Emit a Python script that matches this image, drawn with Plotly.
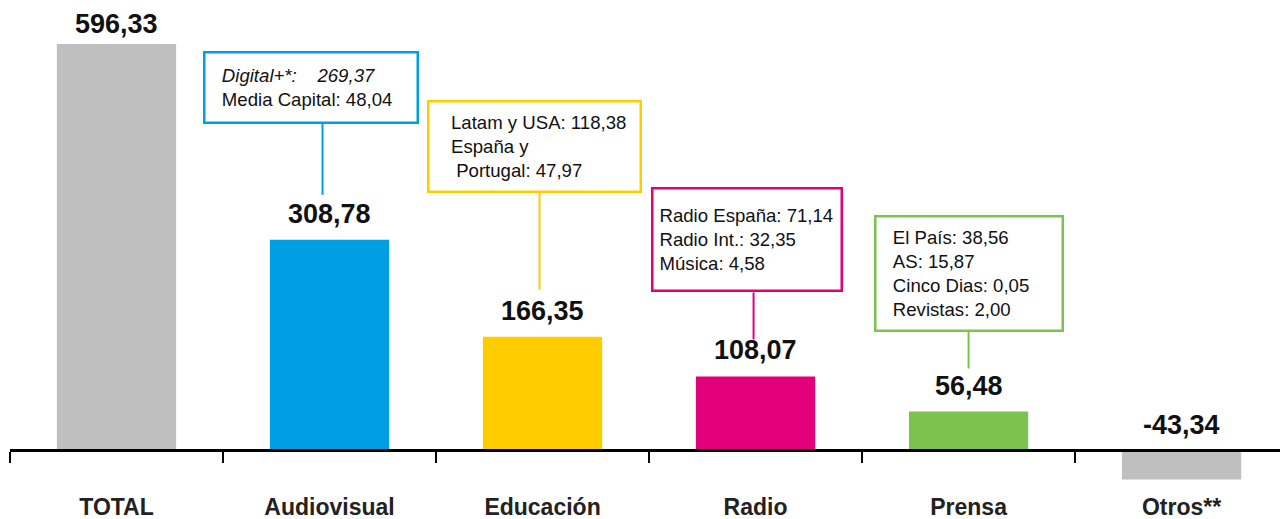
import plotly.graph_objects as go

categories = ["TOTAL", "Audiovisual", "Educación", "Radio", "Prensa", "Otros**"]
values = [596.33, 308.78, 166.35, 108.07, 56.48, -43.34]
bar_colors = ["#BFBFBF", "#009FE3", "#FFCC00", "#E2007A", "#7DC24E", "#BFBFBF"]

breakdown_cat = ["Audiovisual", "Educación", "Radio", "Prensa"]
breakdown_text = [
    "<i>Digital+*:    269,37</i><br>Media Capital: 48,04",
    "Latam y USA: 118,38<br>España y<br> Portugal: 47,97",
    "Radio España: 71,14<br>Radio Int.: 32,35<br>Música: 4,58",
    "El País: 38,56<br>AS: 15,87<br>Cinco Dias: 0,05<br>Revistas: 2,00",
]

# layout styling (pixels)
box_w = [216, 215, 192, 190]
box_h = [73, 93, 105, 117]
box_dx = [-19, -8, -9, 0]
box_above = [116, 144, 84, 80]
box_indent = [2, 3, 0, 2]
line_dx = [-7, -3, -2, 0]
line_from = [45, 47, 37, 43]

Y_MIN, Y_MAX = -101.35, 661.0
fmt = lambda v: f"{v:.2f}".replace(".", ",")

fig = go.Figure()
fig.add_trace(go.Bar(
    x=categories, y=values, marker=dict(color=bar_colors, line=dict(width=0)),
    width=0.56, hoverinfo="skip",
))

annotations = []
shapes = []
for i, (c, v) in enumerate(zip(categories, values)):
    if v >= 0:
        ys = 3 if i == 0 else 9
        annotations.append(dict(x=c, y=v, xref="x", yref="y", text=f"<b>{fmt(v)}</b>",
                                showarrow=False, yanchor="bottom", yshift=ys,
                                font=dict(family="Arial, Liberation Sans", size=27, color="#111")))
    else:
        annotations.append(dict(x=c, y=0, xref="x", yref="y", text=f"<b>{fmt(v)}</b>",
                                showarrow=False, yanchor="bottom", yshift=8,
                                font=dict(family="Arial, Liberation Sans", size=27, color="#111")))

for k, c in enumerate(breakdown_cat):
    i = categories.index(c)
    v = values[i]
    col = bar_colors[i]
    bw = 2.5
    pad = 6
    lines = breakdown_text[k].split("<br>")
    txt = "<br>".join("&nbsp;" * box_indent[k] + ln for ln in lines)
    annotations.append(dict(
        x=c, y=v, xref="x", yref="y", text=txt, showarrow=False,
        xanchor="center", yanchor="bottom", xshift=box_dx[k], yshift=box_above[k],
        align="left", valign="middle",
        width=box_w[k] - 2 * pad - 2 * bw, height=box_h[k] - 2 * pad - 2 * bw,
        borderpad=pad, borderwidth=bw, bordercolor=col, bgcolor="white",
        font=dict(family="Arial, Liberation Sans", size=18.6, color="#111"),
    ))
    shapes.append(dict(
        type="line", xref="x", yref="y", xsizemode="pixel", ysizemode="pixel",
        xanchor=c, yanchor=v, x0=line_dx[k], x1=line_dx[k],
        y0=line_from[k], y1=box_above[k],
        line=dict(color=col, width=2),
    ))

fig.update_layout(
    width=1280, height=519,
    margin=dict(l=10, r=0, t=0, b=0),
    paper_bgcolor="white", plot_bgcolor="white",
    showlegend=False,
    annotations=annotations, shapes=shapes,
    xaxis=dict(
        type="category", range=[-0.5, 5.462],
        anchor="free", position=(0 - Y_MIN) / (Y_MAX - Y_MIN),
        showline=True, linecolor="black", linewidth=3,
        ticks="outside", tickson="boundaries", ticklen=11, tickwidth=2, tickcolor="black",
        showgrid=False, zeroline=False,
        tickfont=dict(family="Arial, Liberation Sans", size=23, color="#222"),
        ticklabelstandoff=35, automargin=False,
        tickprefix="<b>", ticksuffix="</b>",
    ),
    yaxis=dict(range=[Y_MIN, Y_MAX], visible=False, showgrid=False, zeroline=False,
               automargin=False),
)

fig.write_html("out.html")
